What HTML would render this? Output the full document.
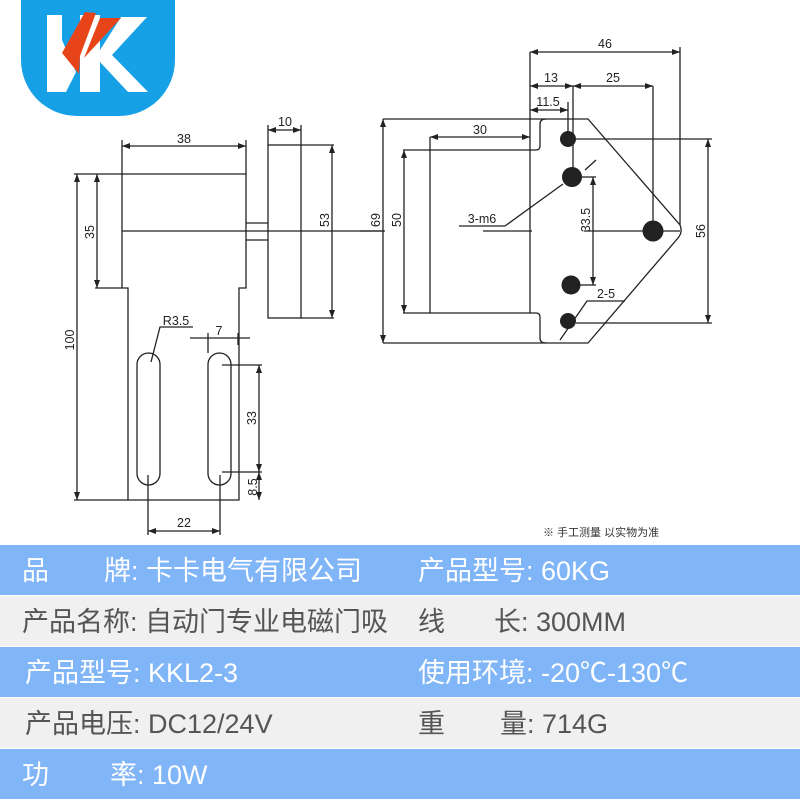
<!DOCTYPE html>
<html><head><meta charset="utf-8"><style>
body{margin:0;width:800px;height:800px;background:#fff;overflow:hidden;position:relative;font-family:"Liberation Sans","Noto Sans CJK SC",sans-serif}
.row{position:absolute;left:0;width:800px;height:50px;font-size:27px;line-height:52px}
.b{background:#80b5f7;color:#fff}
.g{background:#f0f0f0;color:#555}
.row span{position:absolute;top:0;white-space:pre}
svg text{font-family:"Liberation Sans",sans-serif;font-size:12.5px;fill:#222}
</style></head><body>
<svg width="800" height="545" style="position:absolute;left:0;top:0" viewBox="0 0 800 545">
<defs><marker id="a" markerWidth="8" markerHeight="6" refX="8" refY="3" orient="auto-start-reverse" markerUnits="userSpaceOnUse"><path d="M0,0 L8,3 L0,6z" fill="#222"/></marker></defs>
<!-- logo -->
<path d="M21,0 H175 V60 A56,56 0 0 1 119,116 H77 A56,56 0 0 1 21,60 Z" fill="#16a0e6"/>
<path d="M47,15 H62 V92 H47 Z" fill="#fff"/>
<path d="M62,40 L76,72 L66,92 H62 Z" fill="#fff"/>
<path d="M80,15 H100 V50 L121,17 H147 L112,55 L148,92 H128 L100,62 V92 H80 Z" fill="#fff"/>
<path d="M85,12 L96,13 L80,56 L79,74 L62,53 Z" fill="#e8441a"/>
<path d="M100,18 L121,18 L84,58 Z" fill="#e8441a"/>
<g fill="none" stroke="#222" stroke-width="1.3">
<path d="M122,174 H246 V288 H239 V500 H128 V288 H122 Z"/>
<line x1="122" y1="231" x2="385" y2="231"/>
<line x1="246" y1="223" x2="268" y2="223"/><line x1="246" y1="240" x2="268" y2="240"/>
<rect x="268" y="145" width="33" height="173"/>
<rect x="137" y="353" width="23" height="132" rx="11.5"/>
<rect x="208" y="353" width="23" height="132" rx="11.5"/>
<line x1="122" y1="140" x2="122" y2="174"/><line x1="246" y1="140" x2="246" y2="174"/>
<line x1="122" y1="146" x2="246" y2="146" marker-start="url(#a)" marker-end="url(#a)"/>
<line x1="268" y1="125" x2="268" y2="145"/><line x1="301" y1="125" x2="301" y2="145"/>
<line x1="268" y1="130" x2="301" y2="130" marker-start="url(#a)" marker-end="url(#a)"/>
<line x1="301" y1="145" x2="334" y2="145"/><line x1="301" y1="318" x2="334" y2="318"/>
<line x1="332" y1="145" x2="332" y2="318" marker-start="url(#a)" marker-end="url(#a)"/>
<line x1="74" y1="174" x2="122" y2="174"/><line x1="95" y1="288" x2="122" y2="288"/>
<line x1="97" y1="174" x2="97" y2="288" marker-start="url(#a)" marker-end="url(#a)"/>
<line x1="74" y1="500" x2="128" y2="500"/>
<line x1="77" y1="174" x2="77" y2="500" marker-start="url(#a)" marker-end="url(#a)"/>
<polyline points="193,327 160,327 151,362"/>
<line x1="190" y1="338" x2="250" y2="338"/>
<line x1="208" y1="333" x2="208" y2="353"/><line x1="238" y1="333" x2="238" y2="345"/>
<line x1="222" y1="365" x2="262" y2="365"/><line x1="222" y1="472" x2="262" y2="472"/>
<line x1="259" y1="365" x2="259" y2="472" marker-start="url(#a)" marker-end="url(#a)"/>
<line x1="259" y1="472" x2="259" y2="500" marker-start="url(#a)" marker-end="url(#a)"/>
<line x1="148" y1="475" x2="148" y2="535"/><line x1="220" y1="475" x2="220" y2="535"/>
<line x1="148" y1="531" x2="220" y2="531" marker-start="url(#a)" marker-end="url(#a)"/>
<path d="M383,119 H588 L680,225 Q683,232 678,238 L588,343 H383"/>
<path d="M403,150 H536 Q540,150 540,146 V124 Q540,119 546,119"/>
<path d="M403,313 H536 Q540,313 540,317 V338 Q540,343 546,343"/>
<line x1="430" y1="137" x2="430" y2="313"/><line x1="530" y1="52" x2="530" y2="313"/>
<line x1="360" y1="231" x2="383" y2="231"/><line x1="483" y1="231" x2="532" y2="231"/><line x1="584" y1="231" x2="680" y2="231"/>
<line x1="383" y1="119" x2="383" y2="343" marker-start="url(#a)" marker-end="url(#a)"/>
<line x1="404" y1="150" x2="404" y2="313" marker-start="url(#a)" marker-end="url(#a)"/>
<line x1="430" y1="137" x2="530" y2="137" marker-start="url(#a)" marker-end="url(#a)"/>
<line x1="680" y1="47" x2="680" y2="225"/>
<line x1="530" y1="52" x2="680" y2="52" marker-start="url(#a)" marker-end="url(#a)"/>
<line x1="530" y1="86" x2="573" y2="86" marker-start="url(#a)" marker-end="url(#a)"/>
<line x1="573" y1="86" x2="653" y2="86" marker-start="url(#a)" marker-end="url(#a)"/>
<line x1="573" y1="86" x2="573" y2="177"/><line x1="653" y1="86" x2="653" y2="231"/>
<line x1="530" y1="110" x2="568" y2="110" marker-start="url(#a)" marker-end="url(#a)"/>
<line x1="568" y1="102" x2="568" y2="139"/>
<line x1="576" y1="139" x2="712" y2="139"/><line x1="576" y1="323" x2="712" y2="323"/>
<line x1="708" y1="139" x2="708" y2="323" marker-start="url(#a)" marker-end="url(#a)"/>
<line x1="582" y1="177" x2="596" y2="177"/><line x1="580" y1="285" x2="596" y2="285"/>
<line x1="593" y1="177" x2="593" y2="285" marker-start="url(#a)" marker-end="url(#a)"/>
<polyline points="459,226 505,226 563,184"/>
<line x1="585" y1="170" x2="596" y2="160"/>
<polyline points="625,301 587,301 560,340"/>
</g>
<g fill="#222">
<circle cx="568" cy="139" r="8"/><circle cx="572" cy="177" r="10"/><circle cx="653" cy="231" r="10.5"/>
<circle cx="571" cy="285" r="9.5"/><circle cx="568" cy="321" r="8"/>
</g>
<text x="184" y="143" text-anchor="middle">38</text>
<text x="285" y="126" text-anchor="middle">10</text>
<text transform="translate(329,220) rotate(-90)" text-anchor="middle">53</text>
<text transform="translate(94,232) rotate(-90)" text-anchor="middle">35</text>
<text transform="translate(74,340) rotate(-90)" text-anchor="middle">100</text>
<text x="176" y="325" text-anchor="middle">R3.5</text>
<text x="219" y="335" text-anchor="middle">7</text>
<text transform="translate(256,418) rotate(-90)" text-anchor="middle">33</text>
<text transform="translate(257,487) rotate(-90)" text-anchor="middle">8.5</text>
<text x="184" y="527" text-anchor="middle">22</text>
<text x="605" y="48" text-anchor="middle">46</text>
<text x="551" y="82" text-anchor="middle">13</text>
<text x="613" y="82" text-anchor="middle">25</text>
<text x="548" y="106" text-anchor="middle">11.5</text>
<text x="480" y="134" text-anchor="middle">30</text>
<text transform="translate(380,220) rotate(-90)" text-anchor="middle">69</text>
<text transform="translate(401,220) rotate(-90)" text-anchor="middle">50</text>
<text transform="translate(590,220) rotate(-90)" text-anchor="middle">33.5</text>
<text transform="translate(705,231) rotate(-90)" text-anchor="middle">56</text>
<text x="482" y="223" text-anchor="middle">3-m6</text>
<text x="606" y="298" text-anchor="middle">2-5</text>
<text x="543" y="536" style="font-family:'Liberation Sans','Noto Sans CJK SC',sans-serif;font-size:11px;fill:#333">※ 手工测量 以实物为准</text>
</svg>
<div class="row b" style="top:545px"><span style="left:22px">品</span><span style="left:104px">牌: 卡卡电气有限公司</span><span style="left:418px">产品型号: 60KG</span></div>
<div class="row g" style="top:596px"><span style="left:22px">产品名称: 自动门专业电磁门吸</span><span style="left:418px">线</span><span style="left:494px">长: 300MM</span></div>
<div class="row b" style="top:647px"><span style="left:25px">产品型号: KKL2-3</span><span style="left:418px">使用环境: -20℃-130℃</span></div>
<div class="row g" style="top:698px"><span style="left:25px">产品电压: DC12/24V</span><span style="left:418px">重</span><span style="left:500px">量: 714G</span></div>
<div class="row b" style="top:749px"><span style="left:22px">功</span><span style="left:110px">率: 10W</span></div>
</body></html>
